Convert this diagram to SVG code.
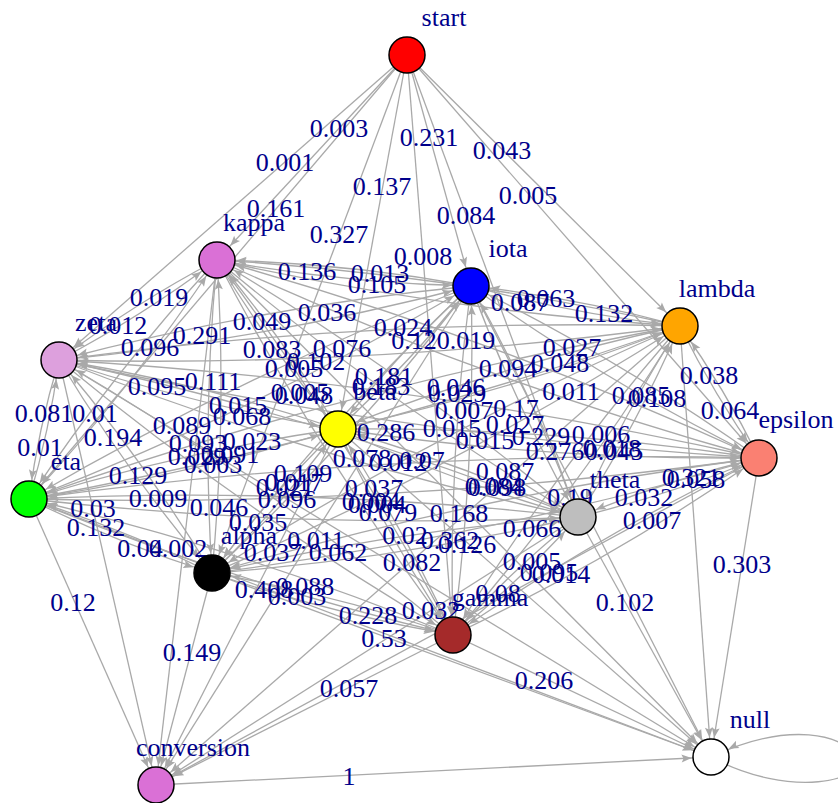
<svg xmlns="http://www.w3.org/2000/svg" width="838" height="803" viewBox="0 0 838 803">
<style>
.e{stroke:#A9A9A9;stroke-width:1.3;fill:none;marker-end:url(#arr)}
.l{font-family:"Liberation Serif","Times New Roman",serif;font-size:26px;fill:#00008B;text-anchor:middle}
.n{stroke:#000;stroke-width:1.5}
</style>
<defs>
<marker id="arr" markerUnits="userSpaceOnUse" markerWidth="40" markerHeight="10" refX="29.5" refY="4" orient="auto" overflow="visible">
<path d="M0,0 L10,4 L0,8 L2,4 z" fill="#A9A9A9"/>
</marker>
</defs>
<rect width="838" height="803" fill="#fff"/>
<g id="edges">
<path class="e" d="M407,55 L217,260"/>
<path class="e" d="M407,55 L59,360"/>
<path class="e" d="M407,55 L29,499"/>
<path class="e" d="M407,55 L338,429"/>
<path class="e" d="M407,55 L212,573"/>
<path class="e" d="M407,55 L471,286"/>
<path class="e" d="M407,55 L680,326"/>
<path class="e" d="M407,55 L759,458"/>
<path class="e" d="M407,55 L578,517"/>
<path class="e" d="M407,55 L453,635"/>
<path class="e" d="M217,260 Q343,283.2 471,286"/>
<path class="e" d="M471,286 Q345,262.8 217,260"/>
<path class="e" d="M217,260 Q445.9,311.5 680,326"/>
<path class="e" d="M680,326 Q451.1,274.5 217,260"/>
<path class="e" d="M217,260 Q134,303.7 59,360"/>
<path class="e" d="M59,360 Q142,316.3 217,260"/>
<path class="e" d="M217,260 Q270.7,349.3 338,429"/>
<path class="e" d="M338,429 Q284.3,339.7 217,260"/>
<path class="e" d="M217,260 Q480.1,380.7 759,458"/>
<path class="e" d="M759,458 Q495.9,337.3 217,260"/>
<path class="e" d="M217,260 Q113.4,372 29,499"/>
<path class="e" d="M29,499 Q132.6,387 217,260"/>
<path class="e" d="M217,260 Q387.2,402.9 578,517"/>
<path class="e" d="M578,517 Q407.8,374.1 217,260"/>
<path class="e" d="M217,260 Q202,416.3 212,573"/>
<path class="e" d="M212,573 Q227,416.7 217,260"/>
<path class="e" d="M217,260 Q320,456.9 453,635"/>
<path class="e" d="M453,635 Q350,438.1 217,260"/>
<path class="e" d="M471,286 Q573.9,314.4 680,326"/>
<path class="e" d="M680,326 Q577.1,297.6 471,286"/>
<path class="e" d="M471,286 Q262,306.5 59,360"/>
<path class="e" d="M59,360 Q268,339.5 471,286"/>
<path class="e" d="M471,286 Q398.8,352.2 338,429"/>
<path class="e" d="M338,429 Q410.2,362.8 471,286"/>
<path class="e" d="M471,286 Q608.1,383.5 759,458"/>
<path class="e" d="M759,458 Q621.9,360.5 471,286"/>
<path class="e" d="M471,286 Q241.5,374.8 29,499"/>
<path class="e" d="M29,499 Q258.5,410.2 471,286"/>
<path class="e" d="M471,286 Q515.3,405.8 578,517"/>
<path class="e" d="M578,517 Q533.7,397.2 471,286"/>
<path class="e" d="M471,286 Q330,419.1 212,573"/>
<path class="e" d="M212,573 Q353,439.9 471,286"/>
<path class="e" d="M471,286 Q448,459.8 453,635"/>
<path class="e" d="M453,635 Q476,461.2 471,286"/>
<path class="e" d="M680,326 Q368.1,318.2 59,360"/>
<path class="e" d="M59,360 Q370.9,367.8 680,326"/>
<path class="e" d="M680,326 Q504.9,363.8 338,429"/>
<path class="e" d="M338,429 Q513.1,391.2 680,326"/>
<path class="e" d="M680,326 Q714.2,395.2 759,458"/>
<path class="e" d="M759,458 Q724.8,388.8 680,326"/>
<path class="e" d="M680,326 Q347.6,386.5 29,499"/>
<path class="e" d="M29,499 Q361.4,438.5 680,326"/>
<path class="e" d="M680,326 Q621.4,417.4 578,517"/>
<path class="e" d="M578,517 Q636.6,425.6 680,326"/>
<path class="e" d="M680,326 Q436.1,430.8 212,573"/>
<path class="e" d="M212,573 Q455.9,468.2 680,326"/>
<path class="e" d="M680,326 Q554.1,471.4 453,635"/>
<path class="e" d="M453,635 Q578.9,489.6 680,326"/>
<path class="e" d="M59,360 Q195.7,405.7 338,429"/>
<path class="e" d="M338,429 Q201.3,383.3 59,360"/>
<path class="e" d="M59,360 Q405.1,437 759,458"/>
<path class="e" d="M759,458 Q412.9,381 59,360"/>
<path class="e" d="M59,360 Q38.4,428.3 29,499"/>
<path class="e" d="M29,499 Q49.6,430.7 59,360"/>
<path class="e" d="M59,360 Q312.2,459.3 578,517"/>
<path class="e" d="M578,517 Q324.8,417.7 59,360"/>
<path class="e" d="M59,360 Q127,472.6 212,573"/>
<path class="e" d="M212,573 Q144,460.4 59,360"/>
<path class="e" d="M59,360 Q245,513.3 453,635"/>
<path class="e" d="M453,635 Q267,481.7 59,360"/>
<path class="e" d="M338,429 Q547.3,460.3 759,458"/>
<path class="e" d="M759,458 Q549.7,426.7 338,429"/>
<path class="e" d="M338,429 Q180.7,451.6 29,499"/>
<path class="e" d="M29,499 Q186.3,476.4 338,429"/>
<path class="e" d="M338,429 Q454.5,482.6 578,517"/>
<path class="e" d="M578,517 Q461.5,463.4 338,429"/>
<path class="e" d="M338,429 Q269.2,496 212,573"/>
<path class="e" d="M212,573 Q280.8,506 338,429"/>
<path class="e" d="M338,429 Q387.3,536.6 453,635"/>
<path class="e" d="M453,635 Q403.7,527.4 338,429"/>
<path class="e" d="M759,458 Q392.4,449.3 29,499"/>
<path class="e" d="M29,499 Q395.6,507.7 759,458"/>
<path class="e" d="M759,458 Q666.1,480.3 578,517"/>
<path class="e" d="M578,517 Q670.9,494.7 759,458"/>
<path class="e" d="M759,458 Q480.9,493.6 212,573"/>
<path class="e" d="M212,573 Q490.1,537.4 759,458"/>
<path class="e" d="M759,458 Q598.9,534.3 453,635"/>
<path class="e" d="M453,635 Q613.1,558.7 759,458"/>
<path class="e" d="M29,499 Q302.8,530 578,517"/>
<path class="e" d="M578,517 Q304.2,486 29,499"/>
<path class="e" d="M29,499 Q117.5,543.3 212,573"/>
<path class="e" d="M212,573 Q123.5,528.7 29,499"/>
<path class="e" d="M29,499 Q235.6,584 453,635"/>
<path class="e" d="M453,635 Q246.4,550 29,499"/>
<path class="e" d="M578,517 Q392.8,530.4 212,573"/>
<path class="e" d="M212,573 Q397.2,559.6 578,517"/>
<path class="e" d="M578,517 Q510.8,571 453,635"/>
<path class="e" d="M453,635 Q520.2,581 578,517"/>
<path class="e" d="M212,573 Q330,613.6 453,635"/>
<path class="e" d="M453,635 Q335,594.4 212,573"/>
<path class="e" d="M217,260 L156,785"/>
<path class="e" d="M217,260 L711,757"/>
<path class="e" d="M471,286 L711,757"/>
<path class="e" d="M471,286 L156,785"/>
<path class="e" d="M680,326 L711,757"/>
<path class="e" d="M680,326 L156,785"/>
<path class="e" d="M59,360 L711,757"/>
<path class="e" d="M59,360 L156,785"/>
<path class="e" d="M338,429 L711,757"/>
<path class="e" d="M338,429 L156,785"/>
<path class="e" d="M759,458 L711,757"/>
<path class="e" d="M759,458 L156,785"/>
<path class="e" d="M29,499 L711,757"/>
<path class="e" d="M29,499 L156,785"/>
<path class="e" d="M578,517 L711,757"/>
<path class="e" d="M578,517 L156,785"/>
<path class="e" d="M212,573 L711,757"/>
<path class="e" d="M212,573 L156,785"/>
<path class="e" d="M453,635 L711,757"/>
<path class="e" d="M453,635 L156,785"/>
<path class="e" d="M156,785 L711,757"/>
<path class="e" d="M711,757 C790,800 870,780 855,757 C845,735 790,720 711,757"/>
</g>
<g id="edge-labels" class="l" font-family="Liberation Serif, serif">
<text x="339" y="137">0.003</text>
<text x="285" y="171">0.001</text>
<text x="276" y="217">0.161</text>
<text x="382" y="195">0.137</text>
<text x="339" y="243">0.327</text>
<text x="429" y="146">0.231</text>
<text x="502" y="159">0.043</text>
<text x="528" y="204">0.005</text>
<text x="466" y="224">0.084</text>
<text x="423" y="265">0.008</text>
<text x="307" y="280">0.136</text>
<text x="380" y="282">0.013</text>
<text x="377" y="293">0.105</text>
<text x="159" y="306">0.019</text>
<text x="118" y="334">0.012</text>
<text x="262" y="330">0.049</text>
<text x="403" y="336">0.024</text>
<text x="150" y="356">0.096</text>
<text x="342" y="357">0.076</text>
<text x="213" y="390">0.111</text>
<text x="300" y="401">0.005</text>
<text x="304" y="404">0.048</text>
<text x="198" y="452">0.093</text>
<text x="386" y="441">0.286</text>
<text x="546" y="307">0.063</text>
<text x="520" y="311">0.087</text>
<text x="327" y="321">0.036</text>
<text x="414" y="349">0.12</text>
<text x="466" y="349">0.019</text>
<text x="572" y="356">0.027</text>
<text x="316" y="370">0.102</text>
<text x="508" y="377">0.094</text>
<text x="381" y="395">0.183</text>
<text x="384" y="385">0.181</text>
<text x="464" y="419">0.007</text>
<text x="516" y="417">0.17</text>
<text x="555" y="460">0.276</text>
<text x="362" y="467">0.078</text>
<text x="604" y="322">0.132</text>
<text x="560" y="372">0.048</text>
<text x="709" y="384">0.038</text>
<text x="456" y="396">0.046</text>
<text x="457" y="402">0.029</text>
<text x="641" y="404">0.085</text>
<text x="657" y="407">0.108</text>
<text x="601" y="443">0.006</text>
<text x="691" y="486">0.321</text>
<text x="696" y="488">0.058</text>
<text x="497" y="496">0.098</text>
<text x="494" y="495">0.084</text>
<text x="202" y="344">0.291</text>
<text x="272" y="358">0.083</text>
<text x="157" y="395">0.095</text>
<text x="44" y="422">0.081</text>
<text x="242" y="425">0.068</text>
<text x="113" y="446">0.194</text>
<text x="197" y="465">0.029</text>
<text x="287" y="508">0.096</text>
<text x="93" y="517">0.03</text>
<text x="294" y="377">0.005</text>
<text x="238" y="414">0.015</text>
<text x="485" y="449">0.015</text>
<text x="230" y="463">0.091</text>
<text x="422" y="469">0.07</text>
<text x="294" y="491">0.017</text>
<text x="377" y="513">0.004</text>
<text x="467" y="553">0.126</text>
<text x="273" y="561">0.037</text>
<text x="571" y="400">0.011</text>
<text x="730" y="419">0.064</text>
<text x="515" y="433">0.027</text>
<text x="612" y="457">0.018</text>
<text x="614" y="460">0.045</text>
<text x="505" y="480">0.087</text>
<text x="570" y="506">0.19</text>
<text x="652" y="529">0.007</text>
<text x="742" y="573">0.303</text>
<text x="549" y="581">0.095</text>
<text x="561" y="583">0.014</text>
<text x="95" y="422">0.01</text>
<text x="182" y="434">0.089</text>
<text x="252" y="450">0.023</text>
<text x="40" y="456">0.01</text>
<text x="138" y="484">0.129</text>
<text x="285" y="496">0.021</text>
<text x="219" y="516">0.046</text>
<text x="96" y="536">0.132</text>
<text x="178" y="557">0.002</text>
<text x="264" y="598">0.408</text>
<text x="73" y="611">0.12</text>
<text x="452" y="437">0.015</text>
<text x="541" y="445">0.229</text>
<text x="398" y="471">0.012</text>
<text x="644" y="506">0.032</text>
<text x="388" y="521">0.079</text>
<text x="450" y="549">0.362</text>
<text x="532" y="570">0.005</text>
<text x="625" y="611">0.102</text>
<text x="431" y="619">0.032</text>
<text x="213" y="473">0.003</text>
<text x="303" y="482">0.109</text>
<text x="374" y="497">0.037</text>
<text x="158" y="507">0.009</text>
<text x="258" y="531">0.035</text>
<text x="405" y="544">0.02</text>
<text x="140" y="557">0.04</text>
<text x="338" y="561">0.062</text>
<text x="297" y="605">0.003</text>
<text x="384" y="647">0.53</text>
<text x="192" y="661">0.149</text>
<text x="459" y="522">0.168</text>
<text x="532" y="537">0.066</text>
<text x="316" y="549">0.011</text>
<text x="412" y="571">0.082</text>
<text x="305" y="595">0.088</text>
<text x="498" y="602">0.08</text>
<text x="368" y="624">0.228</text>
<text x="544" y="689">0.206</text>
<text x="349" y="697">0.057</text>
<text x="371" y="510">0.004</text>
<text x="349" y="785">1</text>
<text x="845" y="766">1</text>
</g>
<g id="node-start"><circle class="n" cx="407" cy="55" r="18" fill="#FF0000"/><text class="l" x="444" y="26">start</text></g>
<g id="node-kappa"><circle class="n" cx="217" cy="260" r="18" fill="#DA70D6"/><text class="l" x="254" y="231">kappa</text></g>
<g id="node-iota"><circle class="n" cx="471" cy="286" r="18" fill="#0000FF"/><text class="l" x="508" y="257">iota</text></g>
<g id="node-lambda"><circle class="n" cx="680" cy="326" r="18" fill="#FFA500"/><text class="l" x="717" y="297">lambda</text></g>
<g id="node-zeta"><circle class="n" cx="59" cy="360" r="18" fill="#DDA0DD"/><text class="l" x="96" y="331">zeta</text></g>
<g id="node-beta"><circle class="n" cx="338" cy="429" r="18" fill="#FFFF00"/><text class="l" x="375" y="400">beta</text></g>
<g id="node-epsilon"><circle class="n" cx="759" cy="458" r="18" fill="#FA8072"/><text class="l" x="796" y="428">epsilon</text></g>
<g id="node-eta"><circle class="n" cx="29" cy="499" r="18" fill="#00FF00"/><text class="l" x="66" y="470">eta</text></g>
<g id="node-theta"><circle class="n" cx="578" cy="517" r="18" fill="#BEBEBE"/><text class="l" x="615" y="488">theta</text></g>
<g id="node-alpha"><circle class="n" cx="212" cy="573" r="18" fill="#000000"/><text class="l" x="249" y="544">alpha</text></g>
<g id="node-gamma"><circle class="n" cx="453" cy="635" r="18" fill="#A52A2A"/><text class="l" x="490" y="606">gamma</text></g>
<g id="node-null"><circle class="n" cx="711" cy="757" r="18" fill="#FFFFFF"/><text class="l" x="750" y="728">null</text></g>
<g id="node-conversion"><circle class="n" cx="156" cy="785" r="18" fill="#DA70D6"/><text class="l" x="193" y="756">conversion</text></g>
</svg>
